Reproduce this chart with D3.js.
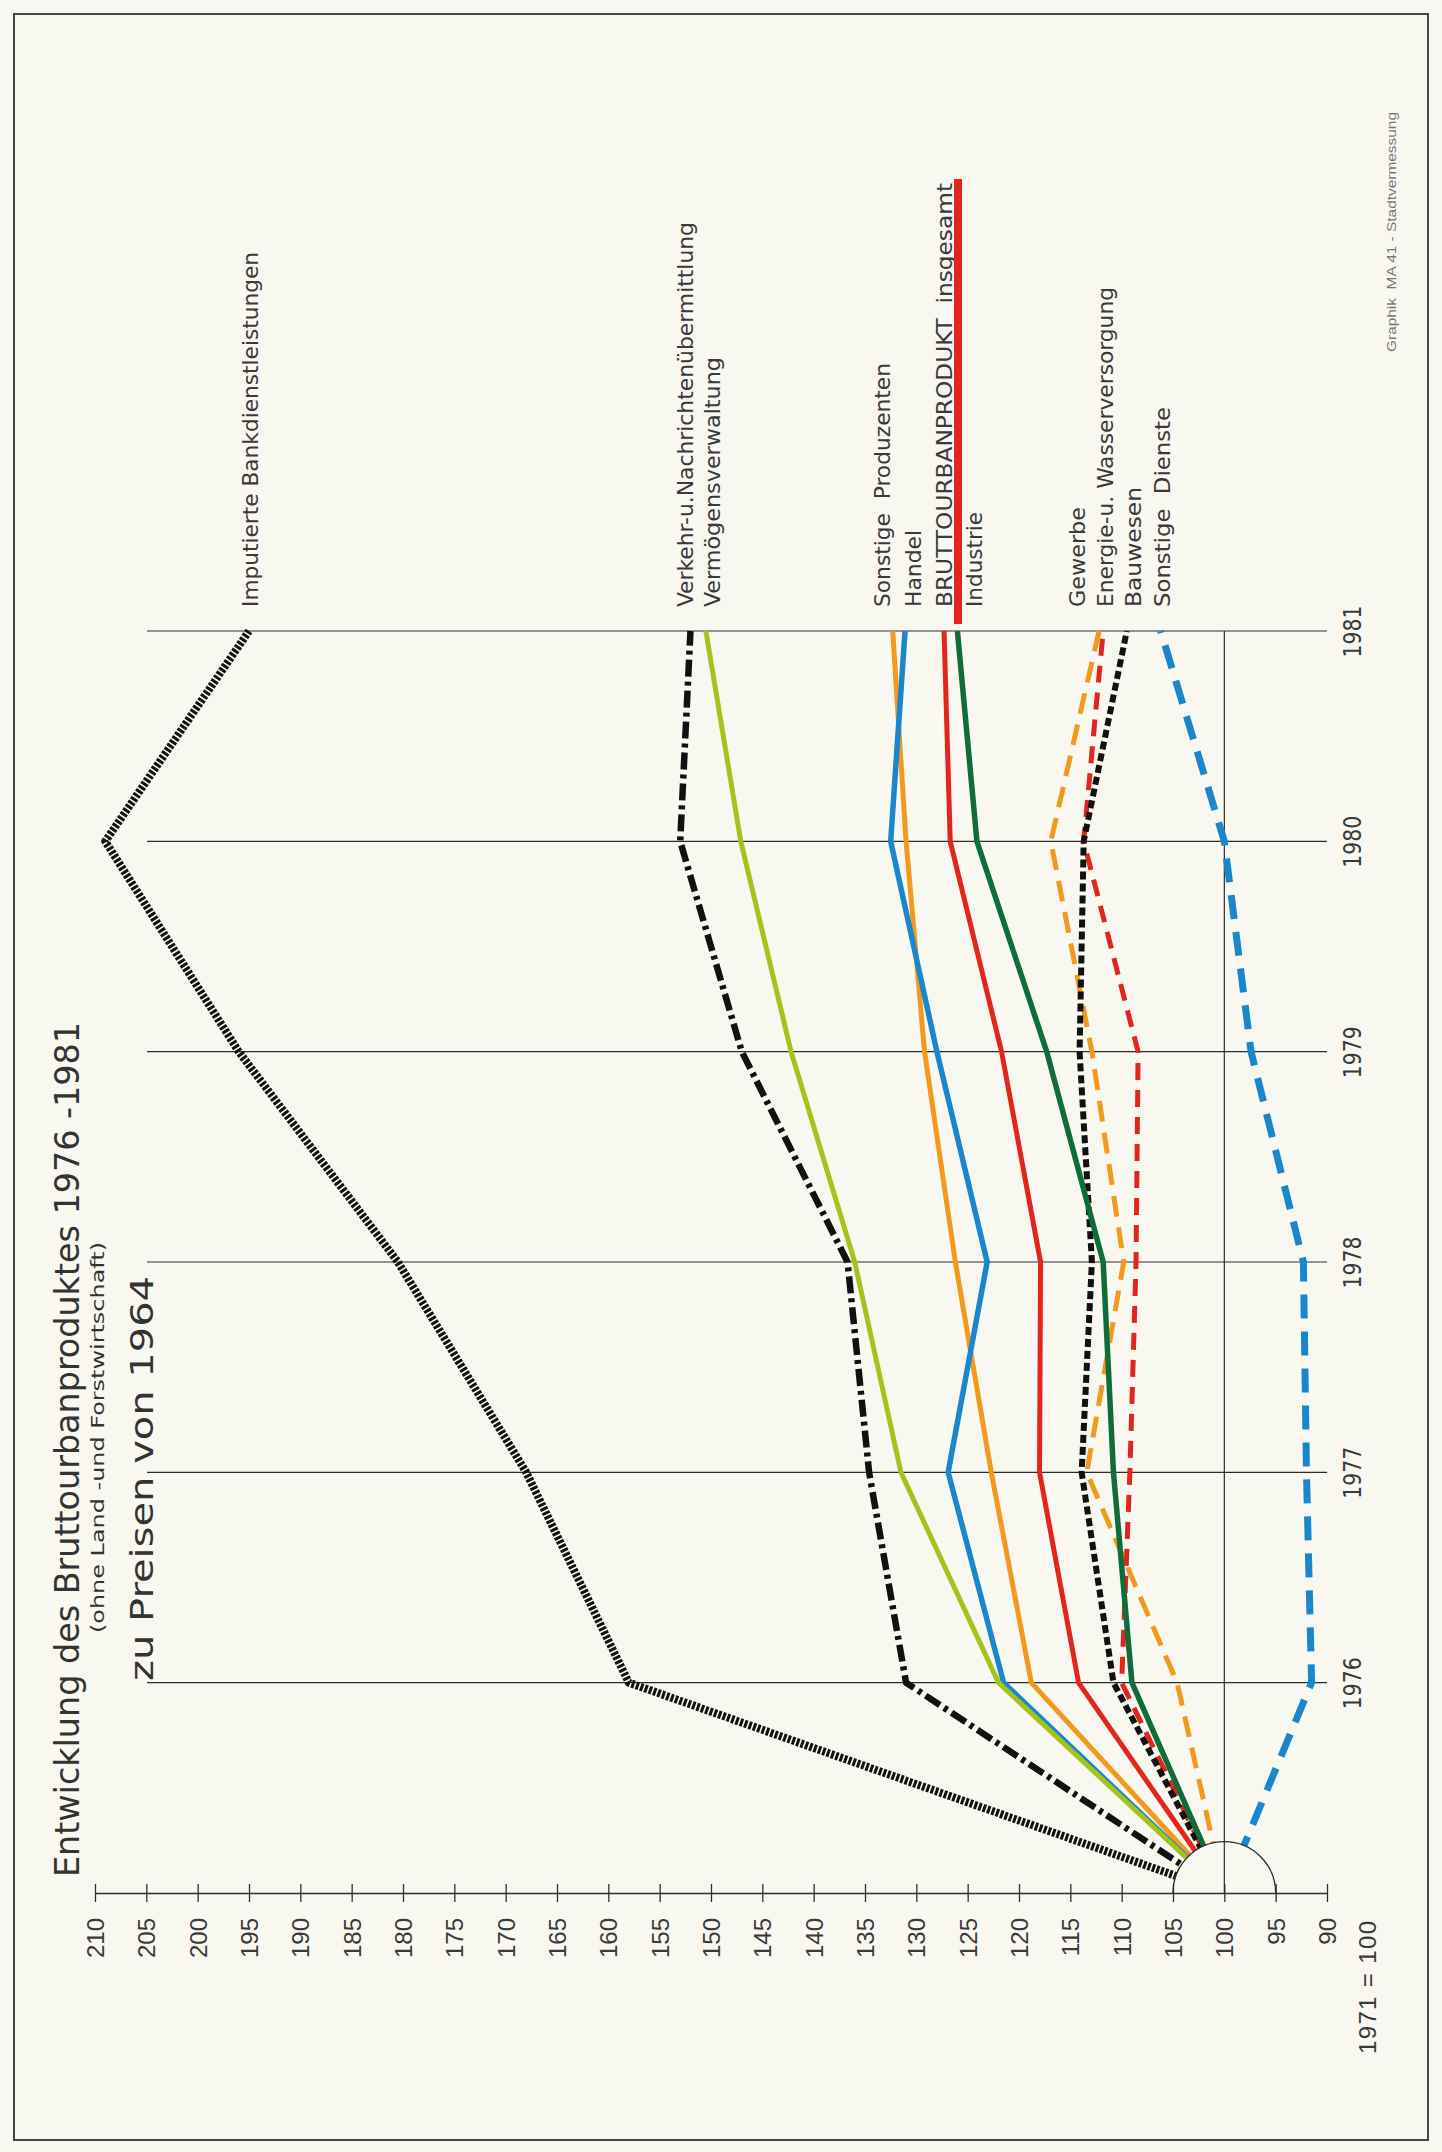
<!DOCTYPE html>
<html>
<head>
<meta charset="utf-8">
<script src="https://cdnjs.cloudflare.com/ajax/libs/d3/7.8.5/d3.min.js"></script>
<style>
  html, body { margin: 0; padding: 0; background: #f8f8f1; }
  svg { display: block; }
  text { white-space: pre; }
</style>
</head>
<body>
<div id="chart"></div>
<script>
// index 1971 = 100, years on the (rotated) vertical axis
const years = ['1971', '1976', '1977', '1978', '1979', '1980', '1981'];
const valueTicks = d3.range(90, 211, 5);

const seriesKeys = ['imputierte', 'verkehr', 'vermoegen', 'sonstProd', 'handel', 'brutto',
  'industrie', 'gewerbe', 'energie', 'bauwesen', 'sonstDienste'];
const seriesLabels = ['Imputierte Bankdienstleistungen', 'Verkehr-u.Nachrichtenübermittlung',
  'Vermögensverwaltung', 'Sonstige  Produzenten', 'Handel', 'BRUTTOURBANPRODUKT  insgesamt',
  'Industrie', 'Gewerbe', 'Energie-u. Wasserversorgung', 'Bauwesen', 'Sonstige  Dienste'];

const imputierte   = [100, 158, 168, 180.5, 196, 209, 195];
const verkehr      = [100, 131, 134.6, 136.7, 147, 153, 152];
const vermoegen    = [100, 122, 131.5, 136, 142.2, 147.1, 150.5];
const sonstProd    = [100, 118.8, 122.7, 126.2, 129.2, 131, 132.3];
const handel       = [100, 121.5, 126.9, 123.1, 128, 132.5, 131.1];
const brutto       = [100, 114.2, 118, 117.9, 121.7, 126.7, 127.3];
const industrie    = [100, 109, 110.8, 111.8, 117.3, 124.1, 126];
const gewerbe      = [100, 104.6, 113.4, 109.8, 112.9, 116.9, 112.2];
const energie      = [100, 110, 109.2, 108.6, 108.4, 113.7, 111.8];
const bauwesen     = [100, 110.8, 113.9, 112.9, 114.1, 113.7, 109.5];
const sonstDienste = [100, 91.5, 92, 92.3, 97.4, 100, 106.2];

const seriesValues = [imputierte, verkehr, vermoegen, sonstProd, handel, brutto,
  industrie, gewerbe, energie, bauwesen, sonstDienste];

const series = seriesKeys.map((k, i) => ({ key: k, label: seriesLabels[i], values: seriesValues[i] }));

const W = 1442, H = 2152;
const ink = '#2e2e2e';
const bg = '#f8f8f1';
const labelFont = '"Liberation Sans Narrow", "DejaVu Sans Condensed", "Liberation Sans", sans-serif';
const titleFont = '"DejaVu Sans Condensed", "DejaVu Sans", sans-serif';
const subFont = '"DejaVu Sans", sans-serif';
const tickFont = '"Liberation Sans", Arial, sans-serif';

const styles = {
  imputierte:   { color: '#111', width: 8,   dash: '3,1.6' },
  verkehr:      { color: '#111', width: 6.5, dash: '17,5,4,5' },
  vermoegen:    { color: '#a6c31d', width: 5,   dash: null },
  sonstProd:    { color: '#f39a1e', width: 5,   dash: null },
  handel:       { color: '#1a87cc', width: 5.5, dash: null },
  brutto:       { color: '#e2261d', width: 5,   dash: null },
  industrie:    { color: '#106d39', width: 5.5, dash: null },
  gewerbe:      { color: '#f39a1e', width: 5,   dash: '21,11' },
  energie:      { color: '#e2261d', width: 5,   dash: '17,10' },
  bauwesen:     { color: '#111', width: 6,   dash: '8,4' },
  sonstDienste: { color: '#1a87cc', width: 7,   dash: '24,13' }
};

// label column: baseline x and text length (rotated text, read bottom-up)
const labelLayout = {
  imputierte:   { bx: 258,  len: 355 },
  verkehr:      { bx: 693,  len: 385 },
  vermoegen:    { bx: 720,  len: 250 },
  sonstProd:    { bx: 890,  len: 244 },
  handel:       { bx: 921,  len: 77 },
  brutto:       { bx: 952,  len: 424 },
  industrie:    { bx: 982,  len: 95 },
  gewerbe:      { bx: 1085, len: 100 },
  energie:      { bx: 1113, len: 320 },
  bauwesen:     { bx: 1141, len: 120 },
  sonstDienste: { bx: 1170, len: 200 }
};

const drawOrder = ['sonstDienste', 'gewerbe', 'energie', 'bauwesen', 'industrie', 'brutto',
  'sonstProd', 'handel', 'vermoegen', 'verkehr', 'imputierte'];

const svg = d3.select('#chart').append('svg').attr('width', W).attr('height', H);
svg.append('rect').attr('width', W).attr('height', H).attr('fill', bg);

const axisY = 1893;
const gridLeft = 147;
const x = d3.scaleLinear().domain([210, 90]).range([95, 1327]);
const y = d3.scalePoint().domain(years).range([axisY, 631]);

function vText(g, bx, by, str, size, font, opts = {}) {
  const t = g.append('text')
    .attr('transform', `translate(${bx},${by}) rotate(-90)`)
    .attr('font-family', font)
    .attr('font-size', size)
    .attr('fill', opts.fill || '#333')
    .attr('text-anchor', opts.anchor || 'start')
    .text(str);
  if (opts.dy) t.attr('dy', opts.dy);
  if (opts.len) t.attr('textLength', opts.len).attr('lengthAdjust', opts.adjust || 'spacingAndGlyphs');
  return t;
}

// frame
svg.append('rect')
  .attr('x', 14).attr('y', 14).attr('width', 1414).attr('height', 2126)
  .attr('fill', 'none').attr('stroke', '#474747').attr('stroke-width', 2);

// year grid lines
svg.append('g').selectAll('line')
  .data(years.slice(1))
  .join('line')
  .attr('x1', gridLeft).attr('x2', x(90))
  .attr('y1', d => y(d)).attr('y2', d => y(d))
  .attr('stroke', ink).attr('stroke-width', 1.2);

// 100 line
svg.append('line')
  .attr('x1', x(100)).attr('x2', x(100))
  .attr('y1', axisY).attr('y2', y('1981'))
  .attr('stroke', ink).attr('stroke-width', 1.2);

// value axis
const gAxis = svg.append('g')
  .attr('transform', `translate(0,${axisY})`)
  .call(d3.axisBottom(x).tickValues(valueTicks).tickSize(0).tickSizeOuter(0));
gAxis.select('.domain').attr('stroke', ink).attr('stroke-width', 1.3);
gAxis.selectAll('.tick line').attr('y1', -9).attr('y2', 9).attr('stroke', ink).attr('stroke-width', 1.3);
gAxis.selectAll('.tick text')
  .attr('y', null).attr('x', null)
  .attr('dy', '0.36em')
  .attr('transform', 'translate(0,25) rotate(-90)')
  .attr('text-anchor', 'end')
  .attr('font-family', tickFont)
  .attr('font-size', 24)
  .attr('fill', '#3a3a3a');

vText(svg, 1367, axisY + 28, '1971 = 100', 24, tickFont, { anchor: 'end', dy: '0.36em', fill: '#3a3a3a', len: 133, adjust: 'spacing' });

// year axis at the right
const gYear = svg.append('g')
  .attr('transform', `translate(${x(90)},0)`)
  .call(d3.axisRight(y).tickValues(years.slice(1)).tickSize(0));
gYear.select('.domain').remove();
gYear.selectAll('.tick text')
  .attr('x', null).attr('dy', '0.36em')
  .attr('transform', 'translate(25,0) rotate(-90)')
  .attr('text-anchor', 'middle')
  .attr('font-family', labelFont)
  .attr('font-size', 24)
  .attr('textLength', 52)
  .attr('lengthAdjust', 'spacingAndGlyphs')
  .attr('fill', '#3a3a3a');

// origin semicircle hides the line starts
const r = x(95) - x(100);
const defs = svg.append('defs');
const mask = defs.append('mask').attr('id', 'origin-mask')
  .attr('maskUnits', 'userSpaceOnUse')
  .attr('x', 0).attr('y', 0).attr('width', W).attr('height', H);
mask.append('rect').attr('width', W).attr('height', H).attr('fill', '#fff');
mask.append('circle').attr('cx', x(100)).attr('cy', axisY).attr('r', r).attr('fill', '#000');

const line = d3.line()
  .x(d => x(d))
  .y((d, i) => y(years[i]));

const gLines = svg.append('g').attr('mask', 'url(#origin-mask)');
drawOrder.forEach(k => {
  const s = series.find(d => d.key === k);
  const st = styles[k];
  gLines.append('path')
    .attr('d', line(s.values))
    .attr('fill', 'none')
    .attr('stroke', st.color)
    .attr('stroke-width', st.width)
    .attr('stroke-dasharray', st.dash)
    .attr('stroke-linejoin', 'round');
});

const arcPath = d3.path();
arcPath.arc(x(100), axisY, r, Math.PI, 2 * Math.PI);
svg.append('path')
  .attr('d', arcPath.toString())
  .attr('fill', 'none').attr('stroke', ink).attr('stroke-width', 1.3);

// series labels above 1981
const labelBottom = 607;
const gLabels = svg.append('g');
series.forEach(s => {
  const L = labelLayout[s.key];
  vText(gLabels, L.bx, labelBottom, s.label, 22, labelFont, { len: L.len, fill: '#3a3a3a' });
});
// the total is marked with a red bar along its label
const bl = labelLayout.brutto;
svg.append('line')
  .attr('x1', bl.bx + 6).attr('x2', bl.bx + 6)
  .attr('y1', labelBottom + 17).attr('y2', labelBottom - bl.len - 4)
  .attr('stroke', styles.brutto.color).attr('stroke-width', 8);

// title
vText(svg, 79, 1877, 'Entwicklung des Bruttourbanproduktes 1976 -1981', 34, titleFont, { len: 855, fill: '#333' });
vText(svg, 104, 1633, '(ohne Land -und Forstwirtschaft)', 18, subFont, { len: 391, fill: '#333' });
vText(svg, 153, 1681, 'zu Preisen von 1964', 32, subFont, { len: 405, fill: '#333' });

// credit
vText(svg, 1396, 352, 'Graphik  MA 41 - Stadtvermessung', 12, tickFont, { len: 240, fill: '#777' });
</script>
</body>
</html>
